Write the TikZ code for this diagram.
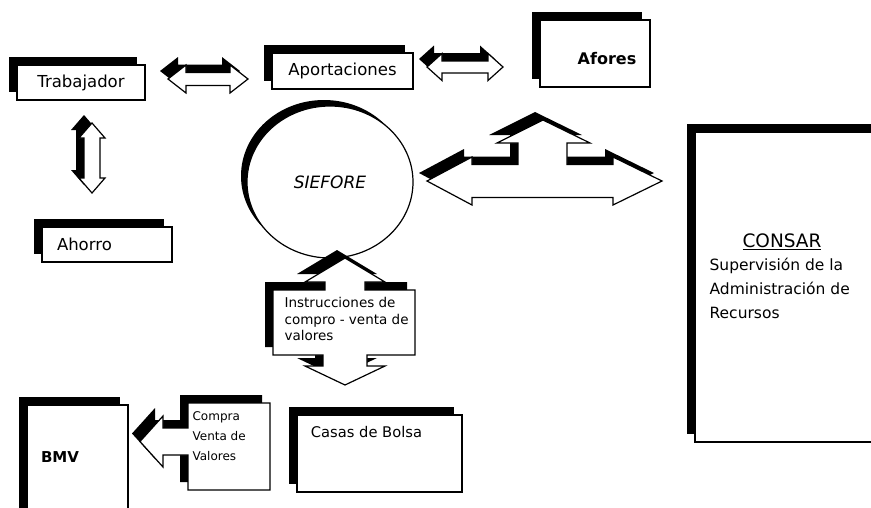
\documentclass[tikz,border=0pt]{standalone}
\usepackage{fontspec}
\setmainfont{DejaVu Sans}
\usetikzlibrary{shadows,shapes.geometric}

\begin{document}
\begin{tikzpicture}[x=1pt,y=-1pt,line width=1.2pt,
        sombra/.style={general shadow={fill=black,shadow xshift=-8pt,shadow yshift=8pt}},
        caja/.style={draw,fill=white,sombra,inner sep=0pt},
        flecha/.style={draw,fill=white,sombra,line join=miter},
        every node/.style={font=\fontsize{16.5}{20}\selectfont}]
        \useasboundingbox (0,0) rectangle (871,507);
        \clip (0,0) rectangle (871,507);
        %cajas
        \node[caja,minimum width=128pt,minimum height=35pt] (trab) at (81,82.5) {Trabajador};
        \node[caja,minimum width=141pt,minimum height=36pt] (aport) at (342.5,71) {Aportaciones};
        \node[caja,minimum width=110pt,minimum height=67pt] (afores) at (595,53.5) {};
        \node[font=\fontsize{16}{19}\selectfont\bfseries] (aforestxt) at (607,59) {Afores};
        \node[caja,text width=100pt,inner xsep=15pt,minimum height=35pt,align=left] (ahorro) at (107,244.5) {Ahorro};
        \node[draw,fill=white,inner sep=0pt,ellipse,minimum width=166pt,minimum height=152pt,
            general shadow={fill=black,shadow xshift=-6pt,shadow yshift=6pt},
            font=\fontsize{17}{20}\selectfont\itshape] (siefore) at (330,182) {SIEFORE};
        \node[caja,minimum width=185pt,minimum height=310pt] (consar) at (787.5,287) {};
        \node[font=\fontsize{18.5}{22}\selectfont] (consartit) at (782,242) {\underline{CONSAR}};
        \node[anchor=north west,align=left,inner sep=0pt,font=\fontsize{15.5}{24}\selectfont] (consartxt) at (709,257) {Supervisión de la\\Administración de\\Recursos};
        \node[caja,minimum width=101pt,minimum height=130pt] (bmv) at (77.5,470) {};
        \node[font=\fontsize{15}{18}\selectfont\bfseries] (bmvtxt) at (60,457) {BMV};
        \node[caja,minimum width=165pt,minimum height=77pt] (casas) at (379.5,453.5) {};
        \node[anchor=west,font=\fontsize{14.7}{18}\selectfont] (casastxt) at (307,432) {Casas de Bolsa};
        %flechas
        \draw[flecha] (168,79) -- (186,65) -- (186,72.5) -- (230,72.5) -- (230,65) -- (248,79)
            -- (230,93) -- (230,85.5) -- (186,85.5) -- (186,93) -- cycle;
        \draw[flecha] (427,67) -- (442,53.5) -- (442,61) -- (488,61) -- (488,53.5) -- (503,67)
            -- (488,80.5) -- (488,73) -- (442,73) -- (442,80.5) -- cycle;
        \draw[flecha] (92,123) -- (105,138) -- (100,138) -- (100,178) -- (105,178) -- (92,193)
            -- (79,178) -- (84,178) -- (84,138) -- (79,138) -- cycle;
        \draw[flecha] (427,181) -- (472,157) -- (472,164.5) -- (518,164.5) -- (518,143) -- (497,143)
            -- (543,120) -- (590,143) -- (567,143) -- (567,164.5) -- (613,164.5) -- (613,157)
            -- (662,181) -- (613,205) -- (613,197.5) -- (472,197.5) -- (472,205) -- cycle;
        %llamadas
        \draw[flecha] (273,290) -- (325,290) -- (325,282) -- (305,282) -- (345,258) -- (385,282)
            -- (365,282) -- (365,290) -- (415,290) -- (415,355) -- (367,355) -- (367,366)
            -- (385,366) -- (345,385) -- (305,366) -- (323,366) -- (323,355) -- (273,355) -- cycle;
        \node[anchor=north west,align=left,inner sep=0pt,font=\fontsize{13.5}{16.5}\selectfont] (instr) at (284,297) {Instrucciones de\\compro - venta de\\valores};
        \draw[flecha] (188,403) -- (270,403) -- (270,490) -- (188,490) -- (188,455) -- (163,455)
            -- (163,467) -- (140,441.5) -- (163,416) -- (163,428) -- (188,428) -- cycle;
        \node[anchor=north west,align=left,inner sep=0pt,font=\fontsize{12}{20}\selectfont] (compra) at (192,411) {Compra\\Venta de\\Valores};
\end{tikzpicture}
\end{document}
